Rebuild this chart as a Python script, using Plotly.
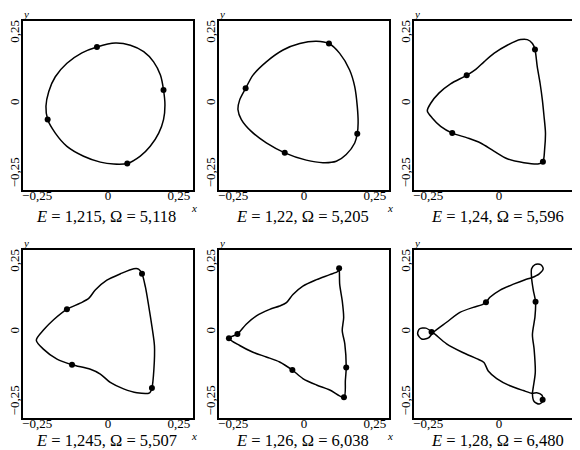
import plotly.graph_objects as go

# curve points (x, y), one list per panel
p1_x = [0.026, 0.079, 0.126, 0.161, 0.185, 0.196, 0.201, 0.196, 0.179, 0.149, 0.114, 0.068,
        0.020, -0.027, -0.086, -0.145, -0.186, -0.213, -0.219, -0.209, -0.186, -0.145, -0.092, -0.039, 0.026]
p1_y = [0.216, 0.208, 0.185, 0.149, 0.102, 0.049, -0.004, -0.056, -0.104, -0.151, -0.186, -0.212,
        -0.214, -0.207, -0.186, -0.151, -0.104, -0.056, -0.009, 0.044, 0.096, 0.144, 0.181, 0.202, 0.216]
p1_dx = [-0.039, 0.196, 0.068, -0.213]
p1_dy = [0.202, 0.049, -0.212, -0.056]

p2_x = [0.044, 0.088, 0.126, 0.161, 0.179, 0.188, 0.191, 0.188, 0.179, 0.149, 0.114, 0.067,
        0.008, -0.068, -0.133, -0.186, -0.221, -0.233, -0.227, -0.206, -0.180, -0.133, -0.074, -0.015, 0.044]
p2_y = [0.222, 0.214, 0.179, 0.120, 0.061, -0.009, -0.068, -0.106, -0.139, -0.180, -0.204, -0.209,
        -0.200, -0.174, -0.139, -0.098, -0.056, -0.021, 0.014, 0.055, 0.102, 0.149, 0.191, 0.214, 0.222]
p2_dx = [0.088, 0.188, -0.068, -0.206]
p2_dy = [0.214, -0.106, -0.174, 0.055]

p3_x = [-0.253, -0.241, -0.212, -0.171, -0.114, -0.082, -0.053, -0.018, 0.029, 0.076, 0.100, 0.118,
        0.127, 0.135, 0.145, 0.153, 0.159, 0.164, 0.161, 0.155, 0.141, 0.088, 0.029, -0.018, -0.065,
        -0.112, -0.165, -0.206, -0.235, -0.253]
p3_y = [-0.025, 0.002, 0.038, 0.071, 0.101, 0.122, 0.149, 0.179, 0.208, 0.228, 0.228, 0.214,
        0.193, 0.132, 0.073, 0.014, -0.045, -0.104, -0.162, -0.206, -0.213, -0.209, -0.195, -0.168, -0.139,
        -0.121, -0.104, -0.080, -0.051, -0.025]
p3_dx = [-0.114, 0.127, 0.155, -0.165]
p3_dy = [0.101, 0.193, -0.206, -0.104]

p4_x = [-0.253, -0.227, -0.192, -0.145, -0.098, -0.068, -0.045, -0.004, 0.044, 0.091, 0.108, 0.120,
        0.132, 0.144, 0.155, 0.164, 0.162, 0.155, 0.147, 0.102, 0.055, 0.008, -0.027, -0.062,
        -0.127, -0.180, -0.227, -0.253]
p4_y = [-0.028, 0.009, 0.045, 0.082, 0.104, 0.121, 0.151, 0.186, 0.209, 0.227, 0.226, 0.209,
        0.162, 0.092, 0.021, -0.049, -0.132, -0.199, -0.216, -0.216, -0.202, -0.179, -0.149, -0.132,
        -0.116, -0.096, -0.061, -0.028]
p4_dx = [-0.145, 0.120, 0.155, -0.127]
p4_dy = [0.082, 0.209, -0.199, -0.116]

p5_x = [-0.265, -0.235, -0.204, -0.168, -0.121, -0.086, -0.062, -0.039, -0.004, 0.044, 0.091, 0.120,
        0.124, 0.126, 0.135, 0.140, 0.135, 0.144, 0.149, 0.146, 0.141, 0.091, 0.044, -0.004, -0.041,
        -0.086, -0.133, -0.180, -0.227, -0.265]
p5_y = [-0.021, -0.006, 0.029, 0.059, 0.082, 0.094, 0.106, 0.135, 0.165, 0.188, 0.206, 0.218,
        0.229, 0.171, 0.112, 0.053, 0.006, -0.041, -0.126, -0.171, -0.232, -0.206, -0.188, -0.165, -0.135,
        -0.106, -0.088, -0.071, -0.047, -0.021]
p5_dx = [-0.265, -0.235, 0.124, 0.149, 0.141, -0.041]
p5_dy = [-0.021, -0.006, 0.229, -0.126, -0.232, -0.135]

p6_x = [-0.232, -0.185, -0.138, -0.091, -0.061, -0.046, -0.032, 0.004, 0.051, 0.092, 0.115, 0.142,
        0.156, 0.147, 0.127, 0.115, 0.115, 0.121, 0.129, 0.127, 0.118, 0.124, 0.128, 0.121, 0.118,
        0.124, 0.142, 0.156, 0.151, 0.133, 0.118, 0.086, 0.039, -0.008, -0.038, -0.053, -0.079,
        -0.126, -0.185, -0.232, -0.258, -0.281, -0.287, -0.273, -0.249, -0.232]
p6_y = [0.000, 0.036, 0.071, 0.089, 0.098, 0.107, 0.125, 0.151, 0.172, 0.188, 0.195, 0.209,
        0.227, 0.242, 0.242, 0.227, 0.195, 0.151, 0.109, 0.056, -0.008, -0.061, -0.144, -0.196, -0.220,
        -0.247, -0.256, -0.244, -0.224, -0.216, -0.218, -0.208, -0.191, -0.165, -0.138, -0.108, -0.094,
        -0.073, -0.041, -0.002, 0.015, 0.012, -0.006, -0.024, -0.020, 0.000]
p6_dx = [-0.238, -0.046, 0.129, 0.154]
p6_dy = [0.001, 0.107, 0.109, -0.241]

captions = ["<i>E</i> = 1,215, Ω = 5,118", "<i>E</i> = 1,22, Ω = 5,205", "<i>E</i> = 1,24, Ω = 5,596",
            "<i>E</i> = 1,245, Ω = 5,507", "<i>E</i> = 1,26, Ω = 6,038", "<i>E</i> = 1,28, Ω = 6,480"]
tick_vals = [-0.25, 0, 0.25]
tick_text = ["−0,25", "0", "0,25"]

panels = [(p1_x, p1_y, p1_dx, p1_dy), (p2_x, p2_y, p2_dx, p2_dy), (p3_x, p3_y, p3_dx, p3_dy),
          (p4_x, p4_y, p4_dx, p4_dy), (p5_x, p5_y, p5_dx, p5_dy), (p6_x, p6_y, p6_dx, p6_dy)]

# page body has an 8px margin, so the figure is shrunk and everything shifted by it
OFF = 8
W, H = 580 - OFF, 450 - OFF
col_px = [(23, 193), (219, 389), (414, 584)]
row_px = [(21, 190), (250, 418)]
scale = 170 / 0.6  # px per unit

fig = go.Figure()
font = "Liberation Serif"


def px(v):
    return (v - OFF) / W


def py(v):
    return 1 - (v - OFF) / H


for i, (cx, cy, dx, dy) in enumerate(panels):
    r, c = divmod(i, 3)
    n = "" if i == 0 else str(i + 1)
    x0, x1 = col_px[c]
    y0, y1 = row_px[r]
    x1c = min(x1, 580)
    fig.add_trace(go.Scatter(x=cx, y=cy, mode="lines",
                             line=dict(color="black", width=1.5, shape="spline", smoothing=0.8),
                             xaxis="x" + n, yaxis="y" + n, showlegend=False, hoverinfo="skip"))
    fig.add_trace(go.Scatter(x=dx, y=dy, mode="markers", marker=dict(color="black", size=6),
                             xaxis="x" + n, yaxis="y" + n, showlegend=False))
    xr = [-0.3, -0.3 + (x1c - x0) / scale]
    fig.layout["xaxis" + n] = dict(domain=[px(x0), px(x1c)], range=xr, anchor="y" + n,
                                   showline=True, mirror=True, linecolor="black", linewidth=2,
                                   showgrid=False, zeroline=False, ticks="", ticklabelstandoff=-8,
                                   tickvals=tick_vals, ticktext=tick_text,
                                   tickfont=dict(family=font, size=13, color="black"))
    fig.layout["yaxis" + n] = dict(domain=[py(y1), py(y0)], range=[-0.306, 0.294], anchor="x" + n,
                                   showline=True, mirror=(c != 2), linecolor="black", linewidth=2,
                                   showgrid=False, zeroline=False, ticks="", ticklabelstandoff=-3,
                                   tickvals=tick_vals, ticktext=tick_text, tickangle=-90,
                                   tickfont=dict(family=font, size=13, color="black"))
    fig.add_annotation(text=captions[i], x=px(x0 + 83), y=py(y1 + 26 - r * 4), xref="paper", yref="paper",
                       xanchor="center", yanchor="middle", showarrow=False,
                       font=dict(family=font, size=16.5, color="black"))
    fig.add_annotation(text="<i>x</i>", x=px(x1 + 1), y=py(y1 + 18), xref="paper", yref="paper",
                       xanchor="center", yanchor="middle", showarrow=False,
                       font=dict(family=font, size=11, color="black"))
    fig.add_annotation(text="<i>y</i>", x=px(x0 + 3), y=py(y0 - 7), xref="paper", yref="paper",
                       xanchor="center", yanchor="middle", showarrow=False,
                       font=dict(family=font, size=11, color="black"))

fig.update_layout(width=W, height=H, margin=dict(l=0, r=0, t=0, b=0),
                  plot_bgcolor="white", paper_bgcolor="white")
fig.write_html("out.html")
